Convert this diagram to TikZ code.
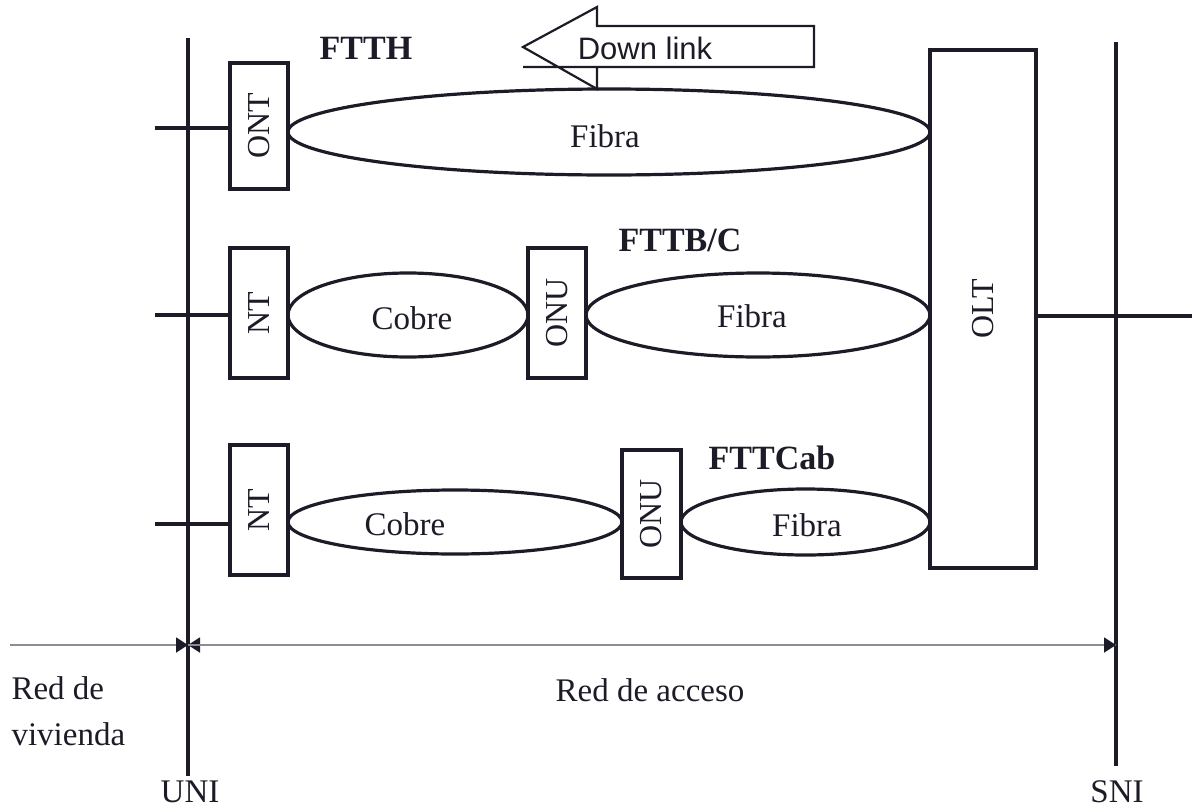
\documentclass[tikz,border=0pt]{standalone}
\usepackage{fontspec}
\setmainfont{Liberation Serif}
\newfontfamily\arialfont{Liberation Sans}
\usetikzlibrary{shapes.geometric,arrows.meta}
\definecolor{ink}{RGB}{28,28,40}
\definecolor{thin}{RGB}{140,140,150}
\tikzset{
  box/.style={draw=ink, line width=3.2pt, minimum width=58pt, inner sep=0pt, fill=white},
  lens/.style={draw=ink, line width=3.2pt, ellipse, inner sep=0pt},
  wire/.style={draw=ink, line width=3.2pt},
  rail/.style={draw=ink, line width=3.4pt},
  lab/.style={font=\fontsize{33}{37}\selectfont, text=ink},
  blab/.style={font=\fontsize{34}{38}\selectfont\bfseries, text=ink},
  rlab/.style={font=\fontsize{32}{36}\selectfont, text=ink, rotate=90},
  dim/.style={draw=thin, line width=1.8pt},
  tip/.style={-{Triangle[length=12pt,width=15pt,fill=ink,color=ink]}}
}
\begin{document}
\begin{tikzpicture}[x=1pt,y=-1pt]
\useasboundingbox (0,0) rectangle (1192,809);
% reference lines
\coordinate (unitop) at (188,38);
\coordinate (unibot) at (188,776);
\coordinate (snitop) at (1116,42);
\coordinate (snibot) at (1116,766);
\draw[rail] (unitop) -- (unibot);
\draw[rail] (snitop) -- (snibot);

% OLT
\node[box, minimum width=106pt, minimum height=518pt] (olt) at (983,309) {};
\node[rlab] (oltt) at (olt) {OLT};
\coordinate (oltout) at (1192,316);
\draw[wire] (olt.east |- oltout) -- (oltout);

% Row 1 FTTH
\node[box, minimum height=126pt] (ont) at (259,126) {};
\node[rlab] (ontt) at (ont) {ONT};
\coordinate (in1) at (155,128);
\draw[wire] (in1) -- (in1 -| ont.west);
\node[lens, minimum width=642pt, minimum height=86pt] (fib1) at (609,132) {};
\node[lab] (fib1t) at (605,136) {Fibra};
\node[blab] (ftth) at (366,48) {FTTH};

% Row 2 FTTB/C
\node[box, minimum height=130pt] (nt2) at (259,313) {};
\node[rlab] (nt2t) at (nt2) {NT};
\coordinate (in2) at (155,315);
\draw[wire] (in2) -- (in2 -| nt2.west);
\node[lens, minimum width=240pt, minimum height=84pt] (cob2) at (408,315) {};
\node[lab] (cob2t) at (412,318) {Cobre};
\node[box, minimum height=130pt] (onu2) at (557,313) {};
\node[rlab] (onu2t) at (onu2) {ONU};
\node[lens, minimum width=344pt, minimum height=84pt] (fib2) at (758,315) {};
\node[lab] (fib2t) at (752,316) {Fibra};
\node[blab] (fttb) at (680,240) {FTTB/C};

% Row 3 FTTCab
\node[box, minimum height=130pt] (nt3) at (259,510) {};
\node[rlab] (nt3t) at (nt3) {NT};
\coordinate (in3) at (155,524);
\draw[wire] (in3) -- (in3 -| nt3.west);
\node[lens, minimum width=334pt, minimum height=64pt] (cob3) at (455,522) {};
\node[lab] (cob3t) at (405,524) {Cobre};
\node[box, minimum width=59pt, minimum height=128pt] (onu3) at (651.5,514) {};
\node[rlab] (onu3t) at (onu3) {ONU};
\node[lens, minimum width=249pt, minimum height=66pt] (fib3) at (805.5,522) {};
\node[lab] (fib3t) at (807,525) {Fibra};
\node[blab] (fttc) at (772,458) {FTTCab};

% Down link arrow
\coordinate (dtip) at (523,47);
\coordinate (dht) at (597,7);
\coordinate (dbt) at (597,26);
\coordinate (dtr) at (814,26);
\coordinate (dbr) at (814,67);
\coordinate (dbl) at (523,67);
\coordinate (dbb) at (597,67);
\coordinate (dhb) at (597,89);
\draw[ink, line width=2.2pt, line join=miter] (dbb) -- (dhb) -- (dtip) -- (dht) -- (dbt) -- (dtr) -- (dbr) -- (dbl);
\node[font=\arialfont\fontsize{31}{35}\selectfont, text=ink] (down) at (645,48) {Down link};

% bottom dimension lines
\coordinate (vl) at (10,645);
\coordinate (ua) at (188,645);
\coordinate (sa) at (1116,645);
\draw[dim, tip] (vl) -- (ua);
\draw[dim, tip] (sa) -- (ua);
\draw[dim, tip] (ua) -- (sa);
\node[lab] (acc) at (650,690) {Red de acceso};
\node[lab, anchor=west] (viv1) at (8,688) {Red de};
\node[lab, anchor=west] (viv2) at (8,734) {vivienda};
\node[lab, inner sep=0pt, anchor=base] (uni) at (190,802) {UNI};
\node[lab, inner sep=0pt, anchor=base] (sni) at (1117,802) {SNI};
\end{tikzpicture}
\end{document}
